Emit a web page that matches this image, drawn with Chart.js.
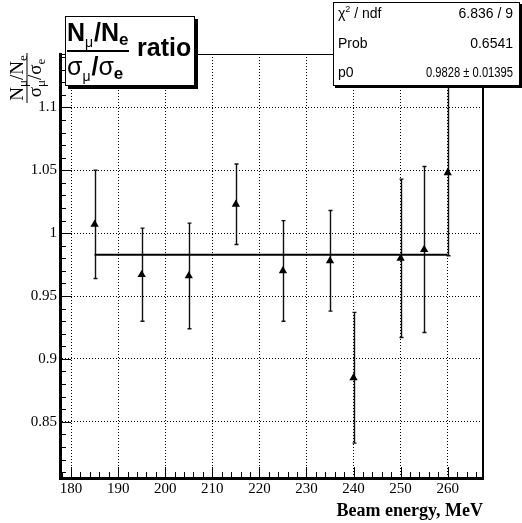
<!DOCTYPE html>
<html>
<head>
<meta charset="utf-8">
<script src="https://cdn.jsdelivr.net/npm/chart.js@4.4.1/dist/chart.umd.min.js"></script>
<style>
html,body{margin:0;padding:0;background:#fff;}
</style>
</head>
<body>
<canvas id="ratioChart" width="522" height="523"></canvas>
<script>
// ======================================
// DATA
// ======================================

const beamEnergy = [185, 195, 205, 215, 225, 235, 240, 250, 255, 260];
const ratio      = [1.007, 0.967, 0.966, 1.023, 0.970, 0.978, 0.885, 0.980, 0.987, 1.048];
const errLow     = [0.043, 0.037, 0.042, 0.032, 0.040, 0.040, 0.052, 0.063, 0.066, 0.066];
const errHigh    = [0.043, 0.037, 0.042, 0.032, 0.040, 0.040, 0.052, 0.063, 0.066, 0.070];

// constant fit p0 over the measured range
const fitP0 = 0.9828;
const fitRange = [185, 260];

const xTickValues = [180, 190, 200, 210, 220, 230, 240, 250, 260];
const yTickValues = [0.85, 0.9, 0.95, 1, 1.05, 1.1];

const statNames  = ["ndf", "Prob", "p0"];
const statValues = ["6.836 / 9", "0.6541", "0.9828 \u00b1 0.01395"];

// ======================================
// HELPERS
// ======================================

const SERIF = "'Liberation Serif', 'DejaVu Serif', serif";
const SANS = "'Liberation Sans', Arial, sans-serif";

function pave(ctx, x, y, w, h, shadow){
  ctx.fillStyle = "#000";
  ctx.fillRect(x + shadow, y + shadow, w, h);
  ctx.fillStyle = "#fff";
  ctx.fillRect(x, y, w, h);
  ctx.strokeStyle = "#000";
  ctx.lineWidth = 1;
  ctx.strokeRect(x + 0.5, y + 0.5, w - 1, h - 1);
}

// parts: [text, font, dy, gapAfter]
function runText(ctx, parts, x, y, measureOnly){
  for(const p of parts){
    ctx.font = p[1];
    if(!measureOnly) ctx.fillText(p[0], x, y + (p[2] || 0));
    x += ctx.measureText(p[0]).width + (p[3] || 0);
  }
  return x;
}

// right-aligned text squeezed sideways to fit a width
function squeezeRight(ctx, text, right, y, maxW){
  const tw = ctx.measureText(text).width;
  const sx = Math.min(1, maxW / tw);
  ctx.save();
  ctx.translate(right, y);
  ctx.scale(sx, 1);
  ctx.textAlign = "right";
  ctx.fillText(text, 0, 0);
  ctx.restore();
}

// ======================================
// FRAME, TICKS, ERRORS, LABEL BOXES
// ======================================

const rootFrame = {
  id: "rootFrame",

  beforeDatasetsDraw(chart){
    const {ctx, chartArea: a, scales: {x, y}} = chart;
    ctx.save();
    ctx.beginPath();
    ctx.rect(a.left, a.top, a.right - a.left, a.bottom - a.top);
    ctx.clip();
    ctx.strokeStyle = "#111";
    ctx.lineWidth = 1.4;
    beamEnergy.forEach((e, i) => {
      const px = Math.round(x.getPixelForValue(e)) + 0.5;
      const top = y.getPixelForValue(ratio[i] + errHigh[i]);
      const bot = y.getPixelForValue(ratio[i] - errLow[i]);
      ctx.beginPath();
      ctx.moveTo(px, top); ctx.lineTo(px, bot);
      ctx.moveTo(px - 2, top); ctx.lineTo(px + 2, top);
      ctx.moveTo(px - 2, bot); ctx.lineTo(px + 2, bot);
      ctx.stroke();
    });
    ctx.restore();
  },

  afterDraw(chart){
    const {ctx, chartArea: a, scales: {x, y}} = chart;
    ctx.save();

    // inward tick marks
    ctx.strokeStyle = "#000";
    ctx.lineWidth = 1;
    ctx.beginPath();
    for(let v = 178; v <= 267; v += 2){
      const px = Math.round(x.getPixelForValue(v)) + 0.5;
      const len = (v % 10 === 0) ? 11 : 6;
      ctx.moveTo(px, a.bottom); ctx.lineTo(px, a.bottom - len);
    }
    for(let k = 81; k <= 114; k++){
      const py = Math.round(y.getPixelForValue(k / 100)) + 0.5;
      const len = (k % 5 === 0) ? 11 : 6;
      ctx.moveTo(a.left, py); ctx.lineTo(a.left + len, py);
    }
    ctx.stroke();

    // top and right frame
    ctx.beginPath();
    ctx.moveTo(a.left, a.top + 0.5); ctx.lineTo(a.right, a.top + 0.5);
    ctx.stroke();
    ctx.lineWidth = 2;
    ctx.beginPath();
    ctx.moveTo(a.right, a.top); ctx.lineTo(a.right, a.bottom + 1);
    ctx.stroke();

    ctx.fillStyle = "#000";
    ctx.textAlign = "left";
    ctx.textBaseline = "alphabetic";

    // y title: rotated fraction
    ctx.save();
    ctx.translate(27, 78);
    ctx.rotate(-Math.PI / 2);
    const numY = [
      ["N", "19px " + SERIF, 0], ["\u03bc", "13px " + SERIF, 4],
      ["/", "19px " + SERIF, 0], ["N", "19px " + SERIF, 0], ["e", "13px " + SERIF, 4]
    ];
    const denY = [
      ["\u03c3", "19px " + SERIF, 0], ["\u03bc", "13px " + SERIF, 4],
      ["/", "19px " + SERIF, 0], ["\u03c3", "19px " + SERIF, 0], ["e", "13px " + SERIF, 4]
    ];
    let w = runText(ctx, numY, 0, 0, true);
    runText(ctx, numY, -w / 2, -4);
    w = runText(ctx, denY, 0, 0, true);
    runText(ctx, denY, -w / 2, 14);
    ctx.fillRect(-25, -0.5, 50, 1);
    ctx.restore();

    // title box
    pave(ctx, 65, 16, 130, 70, 3);
    ctx.fillStyle = "#000";
    runText(ctx, [
      ["N", "bold 25px " + SANS, 0], ["\u03bc", "14px " + SANS, 6, 1],
      ["/", "bold 25px " + SANS, 0], ["N", "bold 25px " + SANS, 0], ["e", "bold 17px " + SANS, 4]
    ], 67, 41);
    ctx.fillRect(67, 50, 62, 2);
    runText(ctx, [
      ["\u03c3", "25px " + SANS, 0], ["\u03bc", "14px " + SANS, 6, 1],
      ["/", "bold 25px " + SANS, 0], ["\u03c3", "25px " + SANS, 0], ["e", "bold 17px " + SANS, 4]
    ], 67, 75);
    ctx.font = "bold 25px " + SANS;
    ctx.fillText("ratio", 137, 56);

    // fit statistics box
    pave(ctx, 333, 2, 187, 84, 2);
    ctx.fillStyle = "#000";
    const rows = [18, 48, 77];
    runText(ctx, [
      ["\u03c7", "14px " + SANS, 0], ["2", "9px " + SANS, -6], [" / " + statNames[0], "14px " + SANS, 0]
    ], 338, rows[0]);
    ctx.font = "14px " + SANS;
    ctx.fillText(statNames[1], 338, rows[1]);
    ctx.fillText(statNames[2], 338, rows[2]);
    ctx.textAlign = "right";
    ctx.fillText(statValues[0], 513, rows[0]);
    ctx.fillText(statValues[1], 513, rows[1]);
    squeezeRight(ctx, statValues[2], 513, rows[2], 87);

    ctx.restore();
  }
};

// ======================================
// CHART
// ======================================

const ctx = document.getElementById("ratioChart");

new Chart(ctx, {
  type: "scatter",
  data: {
    datasets: [
      {
        label: "ratio",
        data: beamEnergy.map((e, i) => ({x: e, y: ratio[i]})),
        pointStyle: "triangle",
        pointRadius: 4.8,
        pointHoverRadius: 4.8,
        backgroundColor: "#000",
        borderColor: "#000",
        borderWidth: 0,
        order: 0
      },
      {
        label: "fit",
        type: "line",
        data: fitRange.map(e => ({x: e, y: fitP0})),
        borderColor: "#000",
        borderWidth: 2,
        pointRadius: 0,
        fill: false,
        order: 1
      }
    ]
  },
  options: {
    responsive: false,
    animation: false,
    devicePixelRatio: 1,
    layout: {padding: {top: 54, right: 39, left: 0, bottom: 0}},
    plugins: {legend: {display: false}, tooltip: {enabled: false}},
    scales: {
      x: {
        type: "linear",
        min: 177.65,
        max: 267.5,
        afterBuildTicks: s => { s.ticks = xTickValues.map(v => ({value: v})); },
        afterFit: s => { s.height = 45; },
        grid: {color: "#000", lineWidth: 1, drawTicks: false},
        border: {display: true, color: "#000", width: 3, dash: [1, 2]},
        ticks: {
          color: "#000", padding: 2, maxRotation: 0, autoSkip: false,
          font: {family: SERIF, size: 15}
        },
        title: {
          display: true, text: "Beam energy, MeV", align: "end", color: "#000",
          font: {family: SERIF, size: 18, weight: "bold"},
          padding: {top: 0, bottom: 1}
        }
      },
      y: {
        type: "linear",
        min: 0.8053,
        max: 1.1425,
        afterBuildTicks: s => { s.ticks = yTickValues.map(v => ({value: v})); },
        afterFit: s => { s.width = 60; },
        grid: {color: "#000", lineWidth: 1, drawTicks: false},
        border: {display: true, color: "#000", width: 3, dash: [1, 2]},
        ticks: {
          color: "#000", padding: 3,
          font: {family: SERIF, size: 15},
          callback: v => String(+v.toFixed(2))
        }
      }
    }
  },
  plugins: [rootFrame]
});
</script>
</body>
</html>
